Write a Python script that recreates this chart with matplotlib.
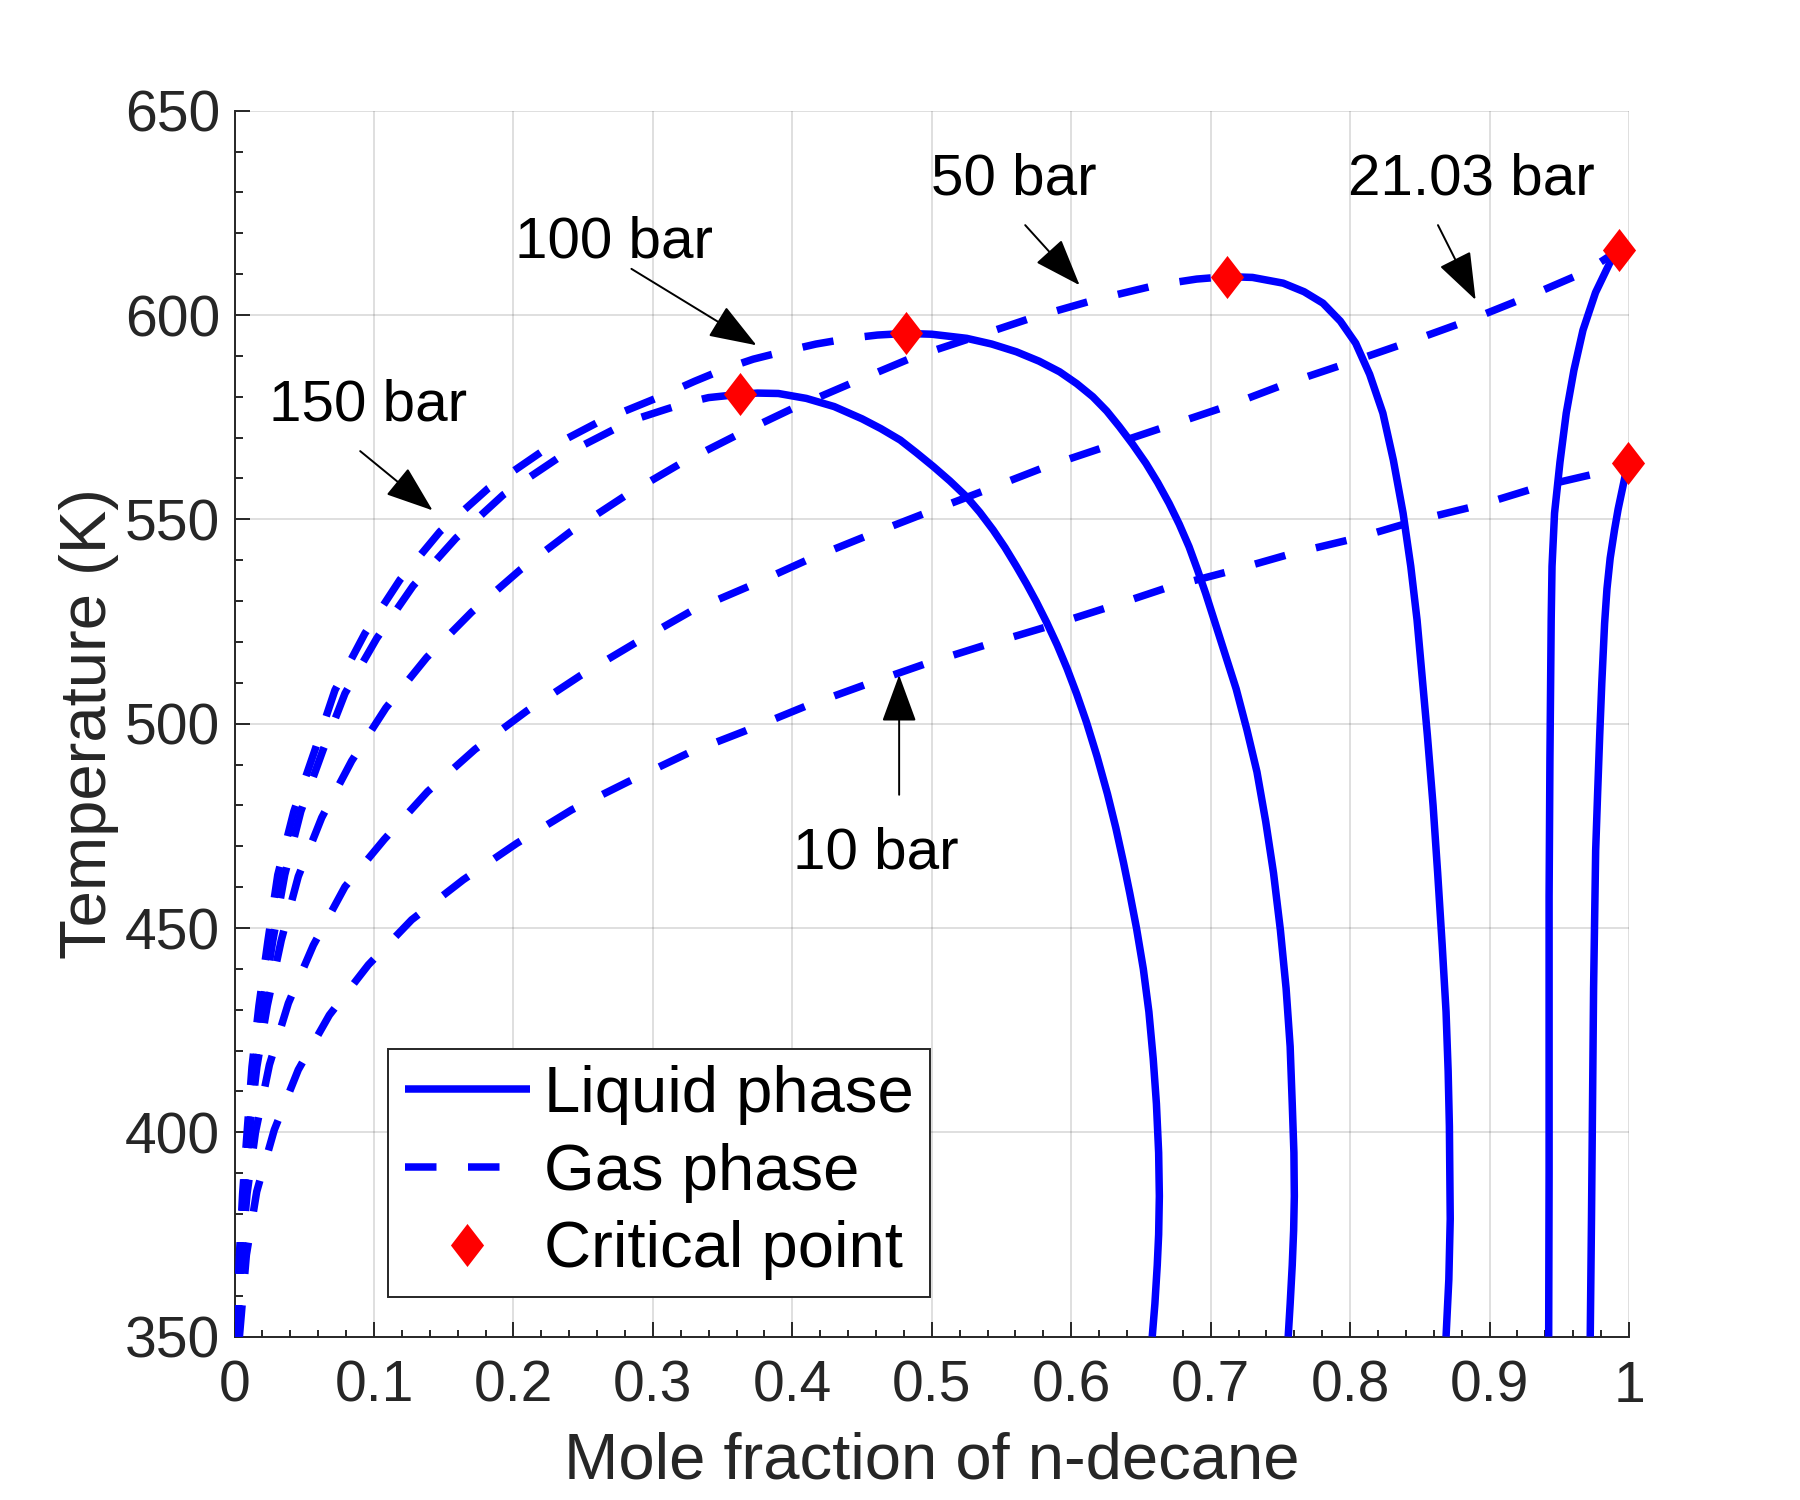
import matplotlib
matplotlib.use("Agg")
import matplotlib.pyplot as plt
from matplotlib.ticker import MultipleLocator
from matplotlib.lines import Line2D

# ------------------------------------------------------------------ data
# Liquid-phase branches (mole fraction of n-decane, temperature K)
liq_150_x = [0.3624, 0.375, 0.390, 0.410, 0.430, 0.450, 0.4635, 0.4774, 0.489, 0.5012,
             0.513, 0.525, 0.5345, 0.544, 0.5525, 0.5607, 0.568, 0.575, 0.5825, 0.590,
             0.597, 0.604, 0.611, 0.6185, 0.626, 0.632, 0.6375, 0.642, 0.6468, 0.6517,
             0.6557, 0.6588, 0.6611, 0.6627, 0.6632, 0.6627, 0.6617, 0.660, 0.6581]
liq_150_T = [580.6, 580.9, 580.8, 579.6, 577.6, 574.6, 572.2, 569.4, 566.3, 562.9,
             559.4, 555.5, 551.7, 547.4, 543.1, 538.5, 534.2, 529.8, 524.7, 519.2,
             513.5, 507.2, 500.3, 492.0, 482.8, 474.5, 466.0, 458.5, 450.0, 440.0,
             429.5, 418.0, 407.0, 395.0, 384.4, 375.0, 367.5, 358.0, 350.0]

liq_100_x = [0.4814, 0.500, 0.525, 0.543, 0.5607, 0.577, 0.5917, 0.604, 0.6155, 0.6255,
             0.6345, 0.644, 0.6536, 0.662, 0.6702, 0.6775, 0.6845, 0.6905, 0.6964,
             0.7025, 0.7183, 0.726, 0.7332, 0.7395, 0.7451, 0.750, 0.7541, 0.757,
             0.7585, 0.7597, 0.760, 0.7595, 0.7585, 0.757, 0.7556]
liq_100_T = [595.5, 595.3, 594.3, 592.9, 591.0, 588.7, 586.1, 583.2, 580.0, 576.5,
             572.7, 568.4, 563.7, 559.0, 553.9, 548.8, 543.3, 537.7, 531.9,
             525.4, 508.5, 498.5, 488.2, 476.0, 463.4, 449.5, 435.2, 421.0,
             407.0, 395.0, 384.4, 376.0, 367.5, 358.0, 350.0]

liq_50_x = [0.7117, 0.730, 0.752, 0.767, 0.7805, 0.793, 0.804, 0.814, 0.8235, 0.831,
            0.838, 0.8435, 0.848, 0.8554, 0.8595, 0.8628, 0.866, 0.8688, 0.8703, 0.8712,
            0.8718, 0.8708, 0.8688]
liq_50_T = [609.4, 609.2, 607.8, 605.7, 602.9, 598.5, 593.1, 585.5, 576.0, 564.5,
            551.5, 538.5, 525.4, 497.2, 480.0, 463.4, 446.0, 429.5, 415.0, 401.4,
            378.8, 364.0, 350.0]

liq_21_x = [0.9927, 0.986, 0.976, 0.967, 0.9605, 0.955, 0.9505, 0.9466, 0.9448, 0.9442,
            0.9433, 0.9427, 0.9427, 0.9424]
liq_21_T = [615.9, 612.6, 605.5, 596.3, 586.5, 576.0, 564.0, 551.5, 538.5, 525.4,
            491.5, 457.7, 390.0, 350.0]

liq_10_x = [0.9991, 0.9956, 0.9922, 0.9896, 0.9865, 0.9842, 0.9825, 0.9805, 0.979,
            0.9775, 0.9761, 0.9746, 0.9737, 0.9731, 0.9722]
liq_10_T = [563.7, 558.0, 552.5, 547.4, 540.5, 533.0, 524.5, 510.0, 497.2,
            483.0, 469.0, 435.2, 401.4, 378.8, 350.0]

# Gas-phase branches
gas_150_x = [0.0013, 0.0042, 0.007, 0.0105, 0.0145, 0.020, 0.0275, 0.036, 0.0475, 0.0635,
             0.0792, 0.102, 0.128, 0.1588, 0.1927, 0.232, 0.272, 0.290, 0.310, 0.325,
             0.340, 0.3624]
gas_150_T = [350, 370, 385, 400, 416, 431, 447, 463, 478.5, 493.6,
             507.4, 520.9, 533.7, 545.4, 556.0, 565.0, 572.0, 574.8, 577.0, 578.6,
             579.8, 580.6]

gas_100_x = [0.001, 0.0035, 0.0058, 0.009, 0.0125, 0.0175, 0.024, 0.031, 0.0425, 0.0577,
             0.072, 0.0935, 0.1186, 0.1473, 0.182, 0.220, 0.262, 0.305, 0.330, 0.352,
             0.372, 0.393, 0.417, 0.441, 0.461, 0.4814]
gas_100_T = [350, 370, 385, 400, 416, 431, 447, 463, 478.5, 493.6,
             508.2, 522.1, 535.2, 547.0, 557.6, 566.5, 574.0, 580.0, 583.8, 586.9,
             589.2, 591.0, 592.9, 594.3, 595.1, 595.5]

gas_50_x = [0.0015, 0.004, 0.0065, 0.0105, 0.016, 0.0235, 0.0335, 0.0457, 0.0625, 0.084,
            0.1086, 0.1378, 0.170, 0.2047, 0.241, 0.2794, 0.319, 0.3595, 0.4006, 0.4436,
            0.4862, 0.5296, 0.5726, 0.6168, 0.661, 0.690, 0.7117]
gas_50_T = [350, 370, 385, 400, 416, 431, 447, 462.6, 477.0, 490.9,
            503.9, 516.2, 527.3, 537.6, 547.0, 555.6, 563.5, 570.5, 577.2, 583.5,
            589.6, 594.5, 599.4, 603.7, 607.3, 608.8, 609.4]

gas_21_x = [0.002, 0.005, 0.009, 0.015, 0.025, 0.0386, 0.0565, 0.0792, 0.1074, 0.1385,
            0.1724, 0.2095, 0.2477, 0.2871, 0.3277, 0.3695, 0.411, 0.453, 0.496, 0.539,
            0.582, 0.625, 0.668, 0.711, 0.755, 0.798, 0.843, 0.886, 0.9275, 0.969, 0.9927]
gas_21_T = [350, 370, 385, 400, 416.5, 431.6, 445.8, 460.1, 471.7, 483.4,
            493.7, 503.1, 511.7, 519.7, 527.6, 533.7, 540.1, 545.9, 551.6, 557.2,
            562.9, 567.8, 572.7, 577.6, 583.3, 588.2, 593.5, 598.8, 604.5, 610.6, 615.9]

gas_10_x = [0.0035, 0.0085, 0.0159, 0.0285, 0.0457, 0.068, 0.096, 0.127, 0.164, 0.2023,
            0.2417, 0.2823, 0.3253, 0.366, 0.409, 0.452, 0.495, 0.539, 0.5834, 0.6276,
            0.669, 0.7148, 0.759, 0.8045, 0.8486, 0.893, 0.936, 0.9776, 0.9991]
gas_10_T = [350, 370, 385.5, 400.6, 415.3, 428.7, 441.0, 452.0, 461.8, 470.7,
            478.9, 485.8, 492.8, 498.2, 504.2, 509.5, 514.6, 519.3, 523.8, 528.6,
            533.3, 537.4, 541.7, 545.4, 549.8, 553.5, 558.0, 561.3, 563.7]

# Critical points
crit_x = [0.3624, 0.4814, 0.7117, 0.9927, 0.9991]
crit_T = [580.6, 595.5, 609.4, 615.9, 563.7]

# Pressure labels
labels = ["150 bar", "100 bar", "50 bar", "21.03 bar", "10 bar"]
legend_labels = ["Liquid phase", "Gas phase", "Critical point"]

x_ticks = [0, 0.1, 0.2, 0.3, 0.4, 0.5, 0.6, 0.7, 0.8, 0.9, 1.0]
x_ticklabels = ["0", "0.1", "0.2", "0.3", "0.4", "0.5", "0.6", "0.7", "0.8", "0.9", "1"]
y_ticks = [350, 400, 450, 500, 550, 600, 650]
y_ticklabels = ["350", "400", "450", "500", "550", "600", "650"]

xlabel = "Mole fraction of n-decane"
ylabel = "Temperature (K)"

# ------------------------------------------------------------------ style
plt.rcParams["font.family"] = ["Liberation Sans", "DejaVu Sans"]
BLUE = (0, 0, 1)
RED = (1, 0, 0)
DARK = "#262626"
LW = 5.4
DASH = (4.2, 4.2)
diamond = [(0, 1), (0.77, 0), (0, -1), (-0.77, 0), (0, 1)]

fig = plt.figure(figsize=(18, 15), dpi=100)
ax = fig.add_axes([0.1303, 0.1089, 0.7747, 0.8173])

liquids = [(liq_150_x, liq_150_T), (liq_100_x, liq_100_T), (liq_50_x, liq_50_T),
           (liq_21_x, liq_21_T), (liq_10_x, liq_10_T)]
gases = [(gas_150_x, gas_150_T), (gas_100_x, gas_100_T), (gas_50_x, gas_50_T),
         (gas_21_x, gas_21_T), (gas_10_x, gas_10_T)]

for gx, gT in gases:
    ax.plot(gx, gT, color=BLUE, lw=LW, linestyle=(0, DASH), dash_capstyle="butt",
            dash_joinstyle="round", zorder=3)
for lx, lT in liquids:
    ax.plot(lx, lT, color=BLUE, lw=LW, solid_capstyle="butt",
            solid_joinstyle="round", zorder=3)

ax.plot(crit_x, crit_T, linestyle="none", marker=diamond, markersize=31,
        markerfacecolor=RED, markeredgecolor=RED, markeredgewidth=0, zorder=5,
        clip_on=False)

# ------------------------------------------------------------------ axes
ax.set_xlim(0, 1)
ax.set_ylim(350, 650)
ax.set_xticks(x_ticks)
ax.set_xticklabels(x_ticklabels)
ax.set_yticks(y_ticks)
ax.set_yticklabels(y_ticklabels)
ax.xaxis.set_minor_locator(MultipleLocator(0.02))
ax.yaxis.set_minor_locator(MultipleLocator(10))
ax.tick_params(which="both", direction="in", colors=DARK, width=1.4,
               top=False, right=False)
ax.tick_params(which="major", length=10.8, labelsize=41)
ax.tick_params(axis="y", which="major", pad=10.5)
ax.tick_params(axis="x", which="major", pad=16.5)
ax.tick_params(which="minor", length=5.4)
for s in ["top", "right"]:
    ax.spines[s].set_visible(False)
for s in ["left", "bottom"]:
    ax.spines[s].set_color(DARK)
    ax.spines[s].set_linewidth(1.4)
ax.grid(True, which="major", color=DARK, alpha=0.15, lw=1.4)
ax.set_axisbelow(True)

ax.set_xlabel(xlabel, fontsize=47, color=DARK)
ax.set_ylabel(ylabel, fontsize=47, color=DARK)
ax.xaxis.set_label_coords(0.5, -0.077)
ax.yaxis.set_label_coords(-0.083, 0.5)

# ------------------------------------------------------------------ annotations
text_pos = [(0.096, 574.3), (0.272, 614.1), (0.5585, 629.4), (0.887, 629.4), (0.4598, 464.6)]
arrow_tail = [(0.0901, 566.7), (0.2846, 611.3), (0.567, 622.0), (0.863, 622.0), (0.4766, 482.6)]
arrow_tip = [(0.142, 552.2), (0.3743, 592.6), (0.606, 607.3), (0.890, 603.7), (0.4766, 511.9)]

for lab, (tx, ty), tail, tip in zip(labels, text_pos, arrow_tail, arrow_tip):
    ax.text(tx, ty, lab, fontsize=42, color="black", ha="center", va="baseline",
            zorder=6)
    ax.annotate("", xy=tip, xytext=tail,
                arrowprops=dict(arrowstyle="-|>,head_length=1.5,head_width=0.55",
                                mutation_scale=20, color="black", lw=1.4,
                                shrinkA=0, shrinkB=0),
                zorder=6)

# ------------------------------------------------------------------ legend
handles = [
    Line2D([], [], color=BLUE, lw=LW, solid_capstyle="butt"),
    Line2D([], [], color=BLUE, lw=LW, linestyle=(0, DASH), dash_capstyle="butt"),
    Line2D([], [], linestyle="none", marker=diamond, markersize=31,
           markerfacecolor=RED, markeredgecolor=RED, markeredgewidth=0),
]
leg = ax.legend(handles, legend_labels, loc="lower left",
                bbox_to_anchor=(0.1102, 0.0326), borderaxespad=0,
                fontsize=47, frameon=True, fancybox=False, framealpha=1,
                edgecolor=DARK, handlelength=1.92, handletextpad=0.22,
                labelspacing=0.27, borderpad=0.25, numpoints=1)
leg.get_frame().set_linewidth(1.4)
leg.set_zorder(10)

fig.savefig("out.png", dpi=100, facecolor="white")
